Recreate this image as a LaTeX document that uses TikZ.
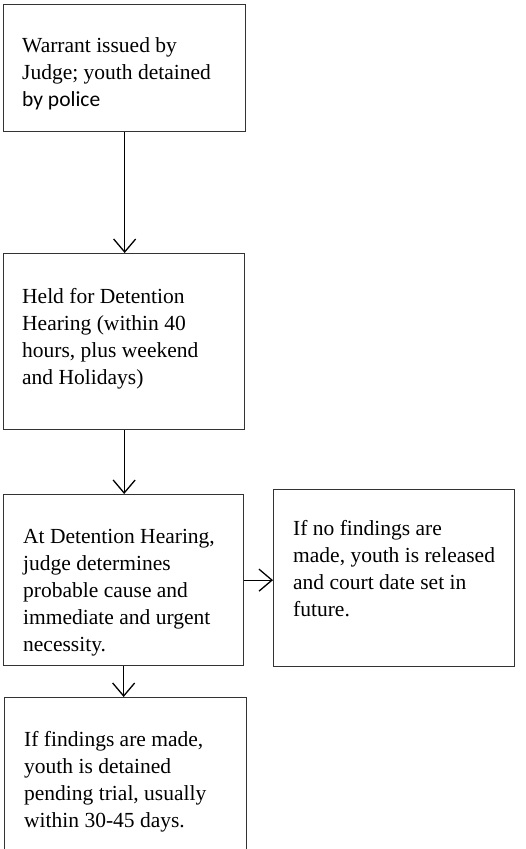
\documentclass[tikz,border=0pt]{standalone}
\usepackage{fontspec}
\setmainfont{Liberation Serif}
\newfontfamily\calibrifont{Carlito}
\usetikzlibrary{arrows.meta}
\begin{document}
\begin{tikzpicture}[x=1pt, y=-1pt,
  flowbox/.style={draw=black!80, line width=1.3pt, inner sep=0pt, anchor=north west},
  % text blocks are placed by the baseline of their last line
  flowtext/.style={anchor=base west, inner sep=0pt, align=left,
    font=\fontsize{21.5}{27}\selectfont},
  flowarrow/.style={line width=1.3pt,
    -{Straight Barb[length=13pt, width=22pt, line width=1.3pt]}}]
\useasboundingbox (0,0) rectangle (526,849);
\clip (0,0) rectangle (526,849);

% boxes
\node[flowbox, minimum width=242pt, minimum height=127pt] (warrant)   at (3,4)   {};
\node[flowbox, minimum width=241pt, minimum height=176pt] (held)      at (3,253) {};
\node[flowbox, minimum width=240pt, minimum height=171pt] (hearing)   at (3,494) {};
\node[flowbox, minimum width=241pt, minimum height=177pt] (released)  at (273,489) {};
\node[flowbox, minimum width=242pt, minimum height=175pt] (detained)  at (4,697) {};

% box texts
\node[flowtext] (warranttext) at (22,106)
  {Warrant issued by\\Judge; youth detained\\{\calibrifont by police}};
\node[flowtext] (heldtext) at (22,384)
  {Held for Detention\\Hearing (within 40\\hours, plus weekend\\and Holidays)};
\node[flowtext] (hearingtext) at (23,651)
  {At Detention Hearing,\\judge determines\\probable cause and\\immediate and urgent\\necessity.};
\node[flowtext] (releasedtext) at (293,616)
  {If no findings are\\made, youth is released\\and court date set in\\future.};
\node[flowtext] (detainedtext) at (24,827)
  {If findings are made,\\youth is detained\\pending trial, usually\\within 30-45 days.};

% connectors
\draw[flowarrow] (warrant.south) -- (warrant.south |- held.north);
\draw[flowarrow] (held.south) -- (held.south |- hearing.north);
\draw[flowarrow] (hearing.east) -- (released.west |- hearing.east);
\draw[flowarrow] (hearing.south) -- (hearing.south |- detained.north);
\end{tikzpicture}
\end{document}
